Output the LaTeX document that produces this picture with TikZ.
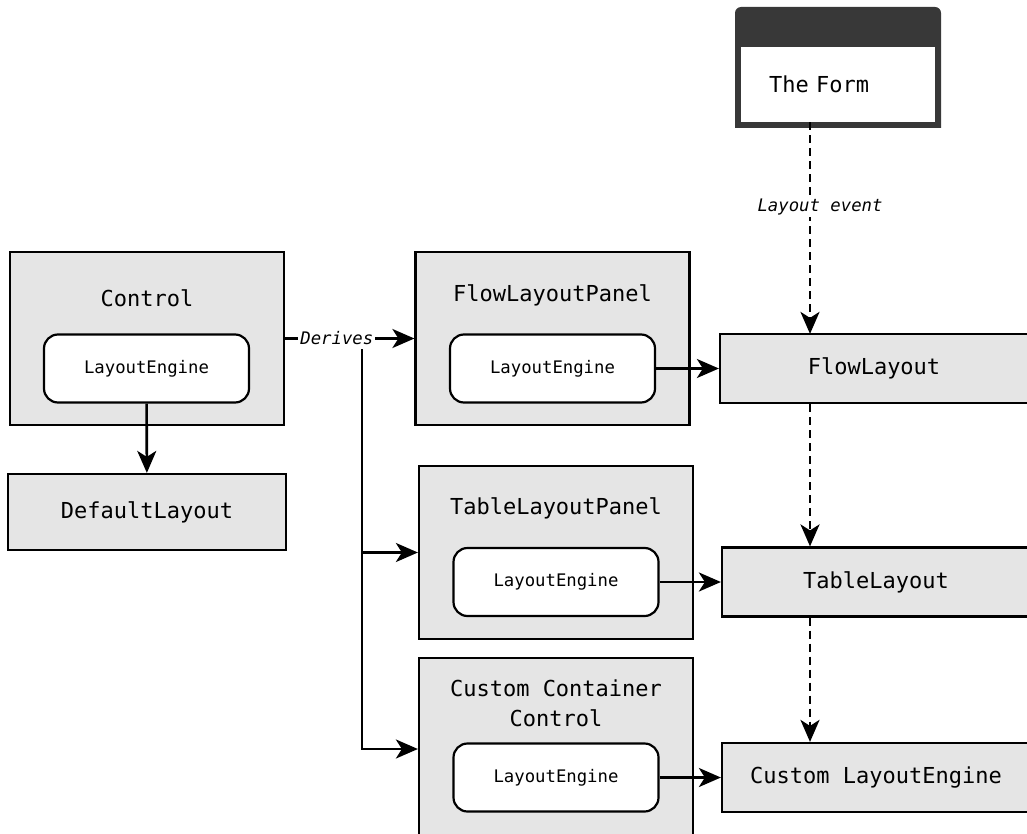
\documentclass[tikz,border=0pt]{standalone}
\usepackage{fontspec}
\setmainfont{DejaVu Sans Mono}
\usepackage{xcolor}
\usetikzlibrary{arrows.meta,positioning}
\newcommand{\bigtxt}{\fontsize{22}{30}\selectfont}
\newcommand{\smalltxt}{\fontsize{17.3}{20}\selectfont}

\begin{document}
\begin{tikzpicture}[
  x=1pt, y=-1pt, font=\bigtxt,
  panel/.style={draw=black, line width=2.2pt, fill=black!10,
               minimum width=274pt, minimum height=173pt, inner sep=0pt},
  engine/.style={draw=black, line width=2.2pt, fill=white, rounded corners=14pt,
                minimum width=205pt, minimum height=68pt, font=\smalltxt},
  layout/.style={draw=black, line width=2.2pt, fill=black!10,
                minimum width=308pt, minimum height=69pt},
  arr/.style={-{Stealth[length=22pt, width=19pt, inset=6pt]}, line width=2.6pt},
  evt/.style={arr, dash pattern=on 8pt off 5pt},
  lbl/.style={fill=white, font=\smalltxt\itshape, inner sep=2pt}
]
\clip (0,0) rectangle (1027,834);

% the form
\fill[black!78] (735,128) {[rounded corners=6pt] -- (735,7) -- (941,7)}
  -- (941,128) -- cycle;
\node[fill=white, minimum height=75pt, inner xsep=28pt, text width=138pt,
      align=left] (form) at (838,84.5) {The Form};

% left column
\node[panel] (ctl) at (147,338.5) {};
\node (ctlt) at (147,298) {Control};
\node[engine] (ctle) at (146.5,368.5) {LayoutEngine};
\node[panel, minimum width=278pt, minimum height=76pt] (deflt) at (147,512)
  {DefaultLayout};

% panels
\node[panel] (flp) at (552.5,338.5) {};
\node (flpt) at (552.5,295) {FlowLayoutPanel};
\node[engine] (flpe) at (552.5,368.5) {LayoutEngine};
\node[panel] (tlp) at (556,552.5) {};
\node (tlpt) at (556,508) {TableLayoutPanel};
\node[engine] (tlpe) at (556,582) {LayoutEngine};
\node[panel, minimum height=182pt] (ccp) at (556,749) {};
\node[align=center] (ccpt) at (556,703) {Custom Container\\Control};
\node[engine] (ccpe) at (556,777.5) {LayoutEngine};

% layouts
\node[layout] (flow) at (874,368.5) {FlowLayout};
\node[layout] (table) at (876,582) {TableLayout};
\node[layout] (custom) at (876,777.5) {Custom LayoutEngine};

% connectors
\draw[arr] (ctle) -- (deflt);
\draw[arr] (ctl) -- node[lbl, pos=0.4] {Derives} (flp);
\coordinate (br) at (362,349);
\draw[arr] (br) |- (tlp.west);
\draw[arr] (br) |- (ccp.west);
\foreach \a/\b in {flpe/flow, tlpe/table, ccpe/custom}
  \draw[arr] (\a) -- (\b);

\coordinate (evx) at (810,0);
\draw[evt] (form.south -| evx) -- ([yshift=-1pt]flow.north -| evx)
  node[lbl, pos=0.4, xshift=10pt] {Layout event};
\draw[evt] (flow.south -| evx) -- (table.north -| evx);
\draw[evt] (table.south -| evx) -- (custom.north -| evx);
\end{tikzpicture}
\end{document}
